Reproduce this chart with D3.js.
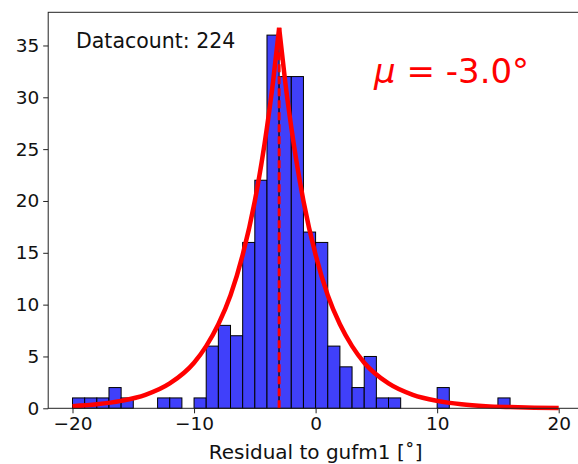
<!DOCTYPE html>
<html>
<head>
<meta charset="utf-8">
<script src="https://cdn.jsdelivr.net/npm/d3@7"></script>
<style>
  html, body { margin: 0; padding: 0; background: #fff; }
  svg { display: block; font-family: "DejaVu Sans", sans-serif; }
</style>
</head>
<body>
<svg id="chart" width="578" height="464"></svg>
<script>
// ---- data ----
const binLeft = [-20,-19,-18,-17,-16,-13,-12,-10,-9,-8,-7,-6,-5,-4,-3,-2,-1,0,1,2,3,4,5,6,10,15];
const counts  = [1,1,1,2,1,1,1,1,6,8,7,16,22,36,32,32,17,16,6,4,2,5,1,1,2,1];
const binWidth = 1;
const fitX = [-20,-18,-16,-14,-12,-10,-9,-8,-7,-6,-5,-4,-3.5,-3,-2.5,-2,-1,0,1,2,3,4,6,8,10,12,14,16,18,20];
const fitY = [0.21,0.39,0.72,1.3,2.4,4.4,6.0,8.1,10.9,14.8,20.0,27.1,31.5,36.7,31.5,27.1,20.0,14.8,10.9,8.1,6.0,4.4,2.4,1.3,0.72,0.39,0.21,0.12,0.06,0.035];
const meanValue = -3.0;
const dataCount = 224;
const xTicks = [-20,-10,0,10,20];
const yTicks = [0,5,10,15,20,25,30,35];
const xDomain = [-22, 22];
const yDomain = [0, 38.2];
const xLabel = "Residual to gufm1 [\u02DA]";

(function () {
// ---- layout ----
const svg = d3.select("#chart");
const mLeft = 48.2, mRight = 583, mTop = 12.3, mBottom = 408.3;
const x = d3.scaleLinear().domain(xDomain).range([mLeft, mRight]);
const y = d3.scaleLinear().domain(yDomain).range([mBottom, mTop]);

// bars
svg.append("g").selectAll("rect")
  .data(binLeft.map((b, i) => ({ b, c: counts[i] })))
  .join("rect")
  .attr("x", d => x(d.b))
  .attr("y", d => y(d.c))
  .attr("width", d => x(d.b + binWidth) - x(d.b))
  .attr("height", d => y(0) - y(d.c))
  .attr("fill", "rgb(64,64,250)")
  .attr("stroke", "#000")
  .attr("stroke-width", 1);

// mean dashed line
const peakIdx = fitY.indexOf(d3.max(fitY));
svg.append("line")
  .attr("x1", x(meanValue)).attr("x2", x(meanValue))
  .attr("y1", y(0)).attr("y2", y(fitY[peakIdx]))
  .attr("stroke", "red").attr("stroke-width", 3)
  .attr("stroke-dasharray", "8,4");

// fit curve: two monotone branches meeting at the cusp
const pts = fitX.map((v, i) => [v, fitY[i]]);
const line = d3.line().x(d => x(d[0])).y(d => y(d[1])).curve(d3.curveMonotoneX);
[pts.slice(0, peakIdx + 1), pts.slice(peakIdx)].forEach(seg => {
  svg.append("path")
    .attr("d", line(seg))
    .attr("fill", "none")
    .attr("stroke", "red")
    .attr("stroke-width", 4.5)
    .attr("stroke-linejoin", "round")
    .attr("stroke-linecap", "butt");
});

// spines
svg.append("rect")
  .attr("x", mLeft).attr("y", mTop)
  .attr("width", mRight - mLeft).attr("height", mBottom - mTop)
  .attr("fill", "none").attr("stroke", "#222").attr("stroke-width", 1);

// axes
const xAxis = d3.axisBottom(x).tickValues(xTicks).tickSize(5).tickPadding(4);
const gx = svg.append("g").attr("transform", `translate(0,${mBottom})`).call(xAxis);
gx.select(".domain").remove();
gx.selectAll("text").attr("font-size", 18.5).attr("font-family", "DejaVu Sans").attr("fill", "#111");
gx.selectAll("line").attr("stroke", "#222");

const yAxis = d3.axisLeft(y).tickValues(yTicks).tickSize(5).tickPadding(4);
const gy = svg.append("g").attr("transform", `translate(${mLeft},0)`).call(yAxis);
gy.select(".domain").remove();
gy.selectAll("text").attr("font-size", 18.5).attr("font-family", "DejaVu Sans").attr("fill", "#111");
gy.selectAll("line").attr("stroke", "#222");

// x label
svg.append("text")
  .attr("x", x(0)).attr("y", 459)
  .attr("text-anchor", "middle")
  .attr("font-size", 20).attr("fill", "#111")
  .text(xLabel);

// annotations
svg.append("text")
  .attr("x", 76).attr("y", 48)
  .attr("font-size", 20.5).attr("fill", "#111")
  .text("Datacount: " + dataCount);

const mu = svg.append("text")
  .attr("x", 374).attr("y", 83)
  .attr("font-size", 34).attr("fill", "red");
mu.append("tspan").attr("font-style", "italic").text("μ");
mu.append("tspan").text(" = " + meanValue.toFixed(1) + "°");
})();
</script>
</body>
</html>
